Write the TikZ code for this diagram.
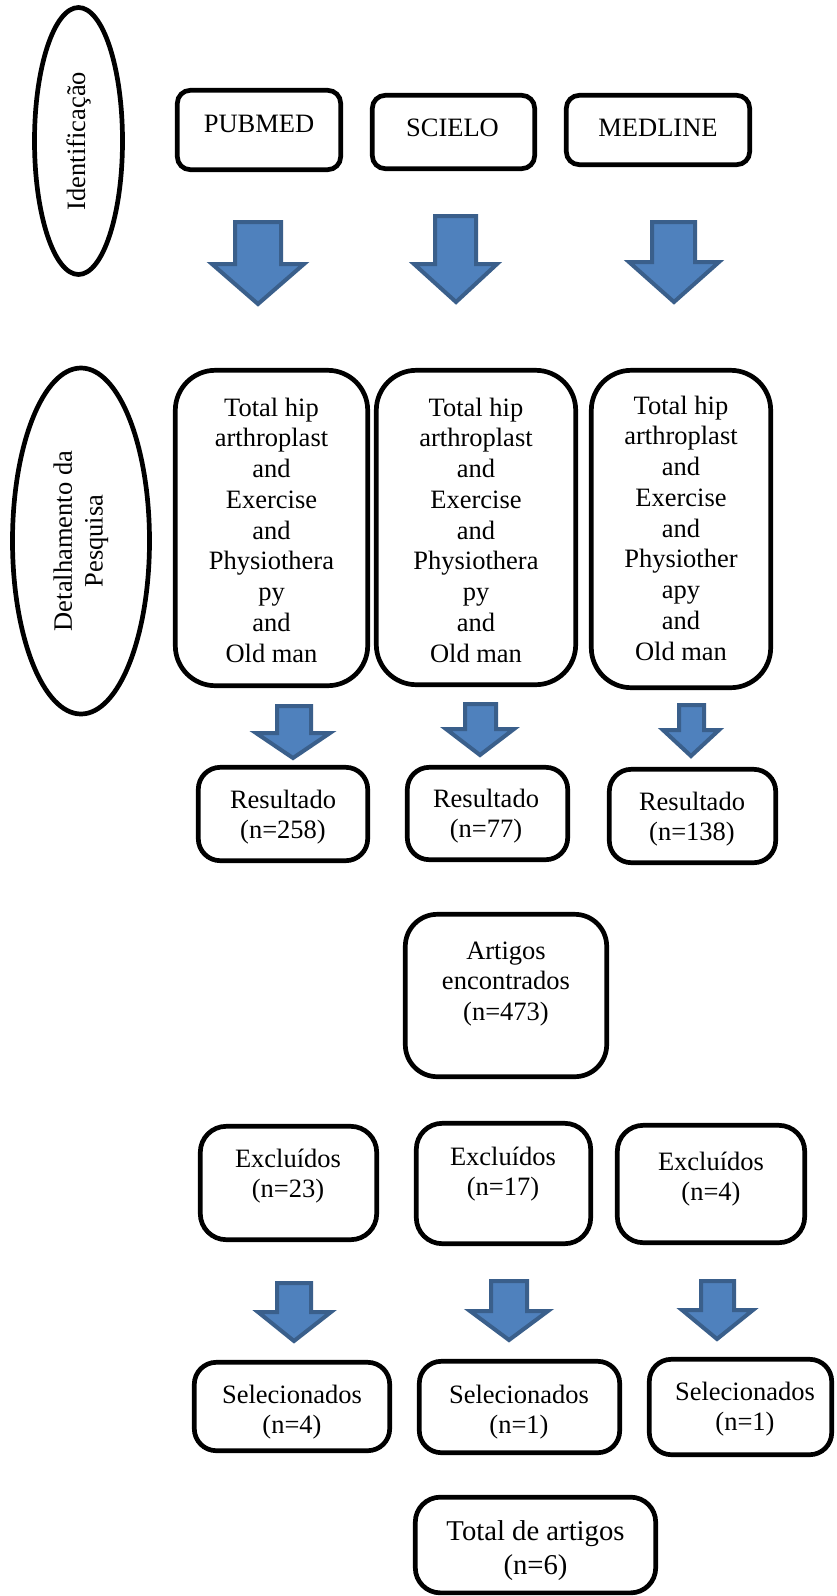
\documentclass[tikz,border=0pt]{standalone}
\usepackage{fontspec}
\setmainfont{Liberation Serif}
\usetikzlibrary{shapes.geometric}
\definecolor{arrowfill}{HTML}{4F81BD}
\definecolor{arrowline}{HTML}{3A5F8B}
\newcommand\mytxt[1]{\begin{tabular}[t]{@{}c@{}}#1\end{tabular}}
\newcommand\blockarrow[8]{\draw[blockarrow] (#1,#3) -- (#2,#3) -- (#2,#4) -- (#6,#4) -- (#7,#8) -- (#5,#4) -- (#1,#4) -- cycle;}
\begin{document}
\begin{tikzpicture}[x=1pt,y=-1pt,
  every node/.style={font=\fontsize{26.5}{30.75}\selectfont},
  rbox/.style={draw, line width=4.7pt, rounded corners=#1, inner sep=0pt},
  ovalbox/.style={draw, ellipse, line width=4.7pt, inner sep=0pt, rotate=90},
  txt/.style={anchor=base, inner sep=0pt},
  blockarrow/.style={fill=arrowfill, draw=arrowline, line width=4pt, line join=miter}]
\useasboundingbox (0,0) rectangle (837,1596);
\fill[white] (0,0) rectangle (837,1596);

% side labels
\node[ovalbox, minimum width=267pt, minimum height=88pt] (ident) at (78.5,141) {Identificação};
\node[ovalbox, minimum width=346pt, minimum height=137pt, align=center] (detal) at (81,541) {Detalhamento da\\Pesquisa};

% databases
\node[rbox=13pt, minimum width=163.4pt, minimum height=79.4pt] (pubmed) at (259,130) {};
\node[txt] (pubmedt) at (259,132) {PUBMED};
\node[rbox=13pt, minimum width=162.4pt, minimum height=73.4pt] (scielo) at (453.5,132) {};
\node[txt] (scielot) at (452.5,136) {SCIELO};
\node[rbox=13pt, minimum width=183.4pt, minimum height=69.4pt] (medline) at (658,130) {};
\node[txt] (medlinet) at (658,136) {MEDLINE};

% top arrows
\blockarrow{235}{281}{222}{264}{212}{304}{258}{304}
\blockarrow{435}{476}{216}{264}{414}{497}{456}{302}
\blockarrow{652}{695}{222}{262}{629}{719}{674}{302}

% search strings
\node[rbox=40pt, minimum width=192.4pt, minimum height=315.4pt] (q1) at (271.5,528) {};
\node[txt] (q1t) at (271.5,416) {\mytxt{Total hip\\arthroplast\\and\\Exercise\\and\\Physiothera\\py\\and\\Old man}};
\node[rbox=40pt, minimum width=199.4pt, minimum height=314.4pt] (q2) at (476,527.5) {};
\node[txt] (q2t) at (476,416) {\mytxt{Total hip\\arthroplast\\and\\Exercise\\and\\Physiothera\\py\\and\\Old man}};
\node[rbox=40pt, minimum width=179.4pt, minimum height=317.4pt] (q3) at (681,529) {};
\node[txt] (q3t) at (681,414) {\mytxt{Total hip\\arthroplast\\and\\Exercise\\and\\Physiother\\apy\\and\\Old man}};

% middle arrows
\blockarrow{277}{311}{706}{733}{256}{330}{293}{758}
\blockarrow{465}{496}{704}{729}{446}{514}{480}{755}
\blockarrow{679}{704}{705}{730}{663}{719}{691}{756}

% results
\node[rbox=22pt, minimum width=169.4pt, minimum height=93.4pt] (r1) at (283,814) {};
\node[txt] (r1t) at (283,808) {\mytxt{Resultado\\(n=258)}};
\node[rbox=22pt, minimum width=160.4pt, minimum height=92.4pt] (r2) at (487.5,813.5) {};
\node[txt] (r2t) at (486,807) {\mytxt{Resultado\\(n=77)}};
\node[rbox=22pt, minimum width=166.4pt, minimum height=93.4pt] (r3) at (692.5,816) {};
\node[txt] (r3t) at (692,810) {\mytxt{Resultado\\(n=138)}};

% found
\node[rbox=32pt, minimum width=201.4pt, minimum height=162.4pt] (art) at (506,995.5) {};
\node[txt] (artt) at (506,959) {\mytxt{Artigos\\encontrados\\(n=473)}};

% excluded
\node[rbox=26pt, minimum width=176.4pt, minimum height=113.4pt] (e1) at (288.5,1183) {};
\node[txt] (e1t) at (288,1167) {\mytxt{Excluídos\\(n=23)}};
\node[rbox=26pt, minimum width=174.4pt, minimum height=120.4pt] (e2) at (503.5,1183.5) {};
\node[txt] (e2t) at (503,1165) {\mytxt{Excluídos\\(n=17)}};
\node[rbox=26pt, minimum width=187.4pt, minimum height=117.4pt] (e3) at (711,1184) {};
\node[txt] (e3t) at (711,1170) {\mytxt{Excluídos\\(n=4)}};

% bottom arrows
\blockarrow{277}{311}{1283}{1312}{258}{331}{294}{1341}
\blockarrow{491}{527}{1281}{1311}{470}{548}{509}{1340}
\blockarrow{701}{734}{1281}{1310}{682}{753}{717}{1339}

% selected
\node[rbox=22pt, minimum width=195.4pt, minimum height=88.4pt] (s1) at (292,1406.5) {};
\node[txt] (s1t) at (292,1403) {\mytxt{Selecionados\\(n=4)}};
\node[rbox=22pt, minimum width=200.4pt, minimum height=91.4pt] (s2) at (519.5,1407) {};
\node[txt] (s2t) at (519,1403) {\mytxt{Selecionados\\(n=1)}};
\node[rbox=22pt, minimum width=182.4pt, minimum height=95.4pt] (s3) at (740.5,1407) {};
\node[txt] (s3t) at (745,1400) {\mytxt{Selecionados\\(n=1)}};

% total
\node[rbox=25pt, minimum width=240.4pt, minimum height=95.7pt] (tot) at (535.5,1545) {};
\node[txt, font=\fontsize{28.7}{34.5}\selectfont] (tott) at (535.5,1540) {\mytxt{Total de artigos\\(n=6)}};
\end{tikzpicture}
\end{document}
